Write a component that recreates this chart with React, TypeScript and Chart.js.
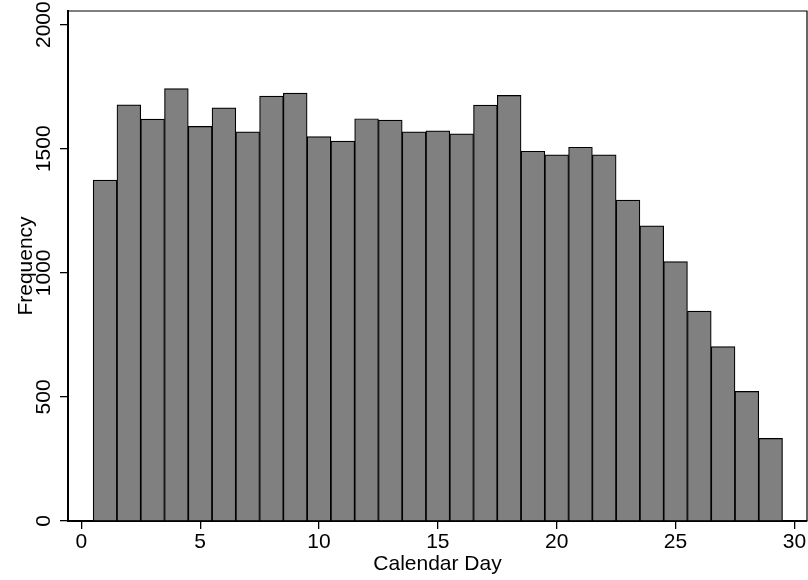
import React, { useEffect, useRef } from "react";
import { Chart, registerables } from "chart.js";

Chart.register(...registerables);

const days = [1, 2, 3, 4, 5, 6, 7, 8, 9, 10, 11, 12, 13, 14, 15, 16, 17, 18, 19, 20, 21, 22, 23, 24, 25, 26, 27, 28, 29];
const frequencies = [1374, 1677, 1619, 1742, 1590, 1665, 1568, 1712, 1724, 1549, 1531, 1621, 1615, 1568, 1572, 1560, 1676, 1715, 1490, 1475, 1506, 1475, 1293, 1189, 1045, 846, 703, 522, 333];
const xTicks = [0, 5, 10, 15, 20, 25, 30];
const yTicks = [0, 500, 1000, 1500, 2000];
const xTitle = "Calendar Day";
const yTitle = "Frequency";

const FONT = "'Liberation Sans', Arial, Helvetica, sans-serif";

export default function App() {
  const ref = useRef<HTMLCanvasElement>(null);

  useEffect(() => {
    if (!ref.current) return;
    const framePlugin = {
      id: "frame",
      afterDraw(chart: any) {
        const { ctx, chartArea } = chart;
        const { left, top, right, bottom } = chartArea;
        ctx.save();
        ctx.strokeStyle = "#000";
        ctx.lineWidth = 1.2;
        ctx.beginPath();
        ctx.moveTo(left, top);
        ctx.lineTo(right, top);
        ctx.lineTo(right, bottom);
        ctx.stroke();
        ctx.restore();
      },
    };

    const chart = new Chart(ref.current, {
      type: "bar",
      data: {
        datasets: [
          {
            data: days.map((d, i) => ({ x: d, y: frequencies[i] })),
            backgroundColor: "#808080",
            borderColor: "#000",
            borderWidth: 1.2,
            barPercentage: 1,
            categoryPercentage: 1,
          } as any,
        ],
      },
      options: {
        responsive: false,
        animation: false,
        devicePixelRatio: 1,
        layout: { padding: { top: 11, right: 1, left: 0, bottom: 0 } },
        plugins: { legend: { display: false }, tooltip: { enabled: false } },
        scales: {
          x: {
            type: "linear",
            min: -0.56,
            max: 30.53,
            offset: false,
            afterBuildTicks: (s: any) => {
              s.ticks = xTicks.map((v) => ({ value: v }));
            },
            afterFit: (s: any) => {
              s.height = 59;
            },
            grid: { display: true, offset: false, drawOnChartArea: false, drawTicks: true, tickLength: 8, color: "#000", lineWidth: 1.3 },
            border: { display: true, color: "#000", width: 2 },
            ticks: {
              color: "#000",
              font: { family: FONT, size: 21 },
              padding: 1,
              minRotation: 0,
              maxRotation: 0,
              autoSkip: false,
              callback: (v: any) => String(v),
            },
            title: {
              display: true,
              text: xTitle,
              color: "#000",
              font: { family: FONT, size: 21 },
              padding: { top: 0, bottom: 3 },
            },
          },
          y: {
            type: "linear",
            min: 0,
            max: 2055,
            afterBuildTicks: (s: any) => {
              s.ticks = yTicks.map((v) => ({ value: v }));
            },
            afterFit: (s: any) => {
              s.width = 68;
            },
            grid: { display: true, offset: false, drawOnChartArea: false, drawTicks: true, tickLength: 8, color: "#000", lineWidth: 1.3 },
            border: { display: true, color: "#000", width: 2 },
            ticks: {
              color: "#000",
              font: { family: FONT, size: 21 },
              padding: -8,
              minRotation: 90,
              maxRotation: 90,
              crossAlign: "center",
              autoSkip: false,
              callback: (v: any) => String(v),
            },
            title: {
              display: true,
              text: yTitle,
              color: "#000",
              font: { family: FONT, size: 21 },
              padding: { top: 14, bottom: 0 },
            },
          },
        },
      } as any,
      plugins: [framePlugin],
    });
    return () => chart.destroy();
  }, []);

  return (
    <div style={{ position: "fixed", left: 0, top: 0, width: 808, height: 580, background: "#fff" }}>
      <canvas ref={ref} width={808} height={580} style={{ width: 808, height: 580, display: "block" }} />
    </div>
  );
}
